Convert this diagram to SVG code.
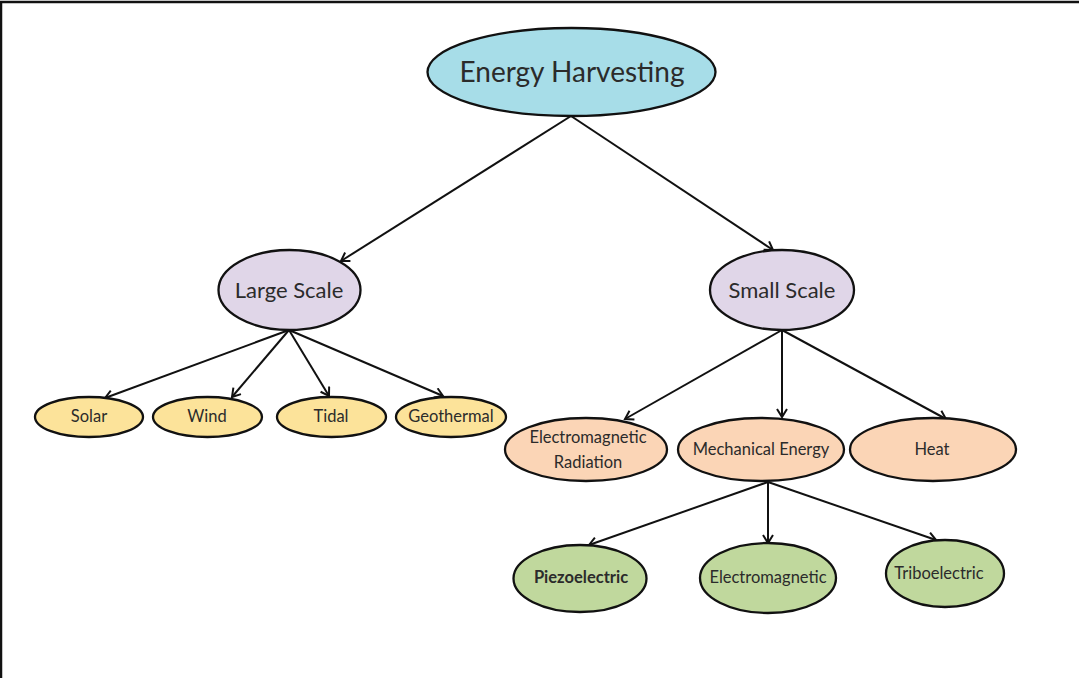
<svg xmlns="http://www.w3.org/2000/svg" width="1079" height="678" viewBox="0 0 1079 678">
<defs>
<style>
.n{stroke:#111;stroke-width:2.3}
.t{font-family:Lato,"Open Sans","Liberation Sans",sans-serif;fill:#2b2b2b;text-anchor:middle}
.s{font-size:16.5px}
.c{stroke:#111;stroke-width:2;fill:none;marker-end:url(#a)}
.blue{fill:#a7dde8}
.purple{fill:#e0d6e8}
.yellow{fill:#fce39a}
.peach{fill:#fbd5b6}
.green{fill:#c0d89d}
</style>
<marker id="a" markerWidth="14" markerHeight="14" refX="10" refY="6" orient="auto" markerUnits="userSpaceOnUse">
<path d="M2,1 L10,6 L2,11" fill="none" stroke="#111" stroke-width="2"/>
</marker>
</defs>
<rect width="1079" height="678" fill="#fff"/>
<path d="M1,678 V2 H1079" fill="none" stroke="#111" stroke-width="2.5"/>
<g id="connectors">
<line class="c" x1="571" y1="116" x2="341" y2="261"/>
<line class="c" x1="571" y1="116" x2="773" y2="250"/>
<line class="c" x1="289" y1="330" x2="105" y2="398"/>
<line class="c" x1="289" y1="330" x2="232" y2="397"/>
<line class="c" x1="289" y1="330" x2="329" y2="396"/>
<line class="c" x1="289" y1="330" x2="443" y2="396"/>
<line class="c" x1="782" y1="330" x2="625" y2="419"/>
<line class="c" x1="782" y1="330" x2="782" y2="417"/>
<line class="c" x1="782" y1="330" x2="946" y2="419"/>
<line class="c" x1="768" y1="482" x2="589" y2="545"/>
<line class="c" x1="768" y1="482" x2="768" y2="543"/>
<line class="c" x1="768" y1="482" x2="936" y2="540"/>
</g>
<g id="energy-harvesting">
<ellipse class="n blue" cx="571.5" cy="72" rx="144" ry="44"/>
<text class="t" x="572" y="82" font-size="28">Energy Harvesting</text>
</g>
<g id="large-scale">
<ellipse class="n purple" cx="289.5" cy="290" rx="71" ry="40"/>
<text class="t" x="289" y="298" font-size="22">Large Scale</text>
</g>
<g id="small-scale">
<ellipse class="n purple" cx="782" cy="290" rx="72" ry="40"/>
<text class="t" x="782" y="298" font-size="22">Small Scale</text>
</g>
<g id="solar">
<ellipse class="n yellow" cx="89" cy="417" rx="54" ry="20"/>
<text class="t s" x="89" y="422">Solar</text>
</g>
<g id="wind">
<ellipse class="n yellow" cx="207.5" cy="417" rx="54.5" ry="20"/>
<text class="t s" x="207" y="422">Wind</text>
</g>
<g id="tidal">
<ellipse class="n yellow" cx="331.5" cy="417" rx="54.5" ry="20"/>
<text class="t s" x="331" y="422">Tidal</text>
</g>
<g id="geothermal">
<ellipse class="n yellow" cx="451" cy="417" rx="55" ry="20"/>
<text class="t s" x="451" y="422">Geothermal</text>
</g>
<g id="em-radiation">
<ellipse class="n peach" cx="586" cy="449.5" rx="81" ry="31.5"/>
<text class="t s" x="588" y="443">Electromagnetic</text>
<text class="t s" x="588" y="468">Radiation</text>
</g>
<g id="mechanical-energy">
<ellipse class="n peach" cx="761" cy="449.5" rx="83" ry="31.5"/>
<text class="t s" x="761" y="455">Mechanical Energy</text>
</g>
<g id="heat">
<ellipse class="n peach" cx="933" cy="449.5" rx="83" ry="31.5"/>
<text class="t s" x="932" y="455">Heat</text>
</g>
<g id="piezoelectric">
<ellipse class="n green" cx="580" cy="578.5" rx="66.5" ry="33.5"/>
<text class="t s" x="581" y="583" font-weight="bold">Piezoelectric</text>
</g>
<g id="electromagnetic">
<ellipse class="n green" cx="768" cy="578" rx="68" ry="35"/>
<text class="t s" x="768" y="583">Electromagnetic</text>
</g>
<g id="triboelectric">
<ellipse class="n green" cx="945" cy="573.5" rx="59" ry="33.5"/>
<text class="t s" x="939" y="579">Triboelectric</text>
</g>
</svg>
